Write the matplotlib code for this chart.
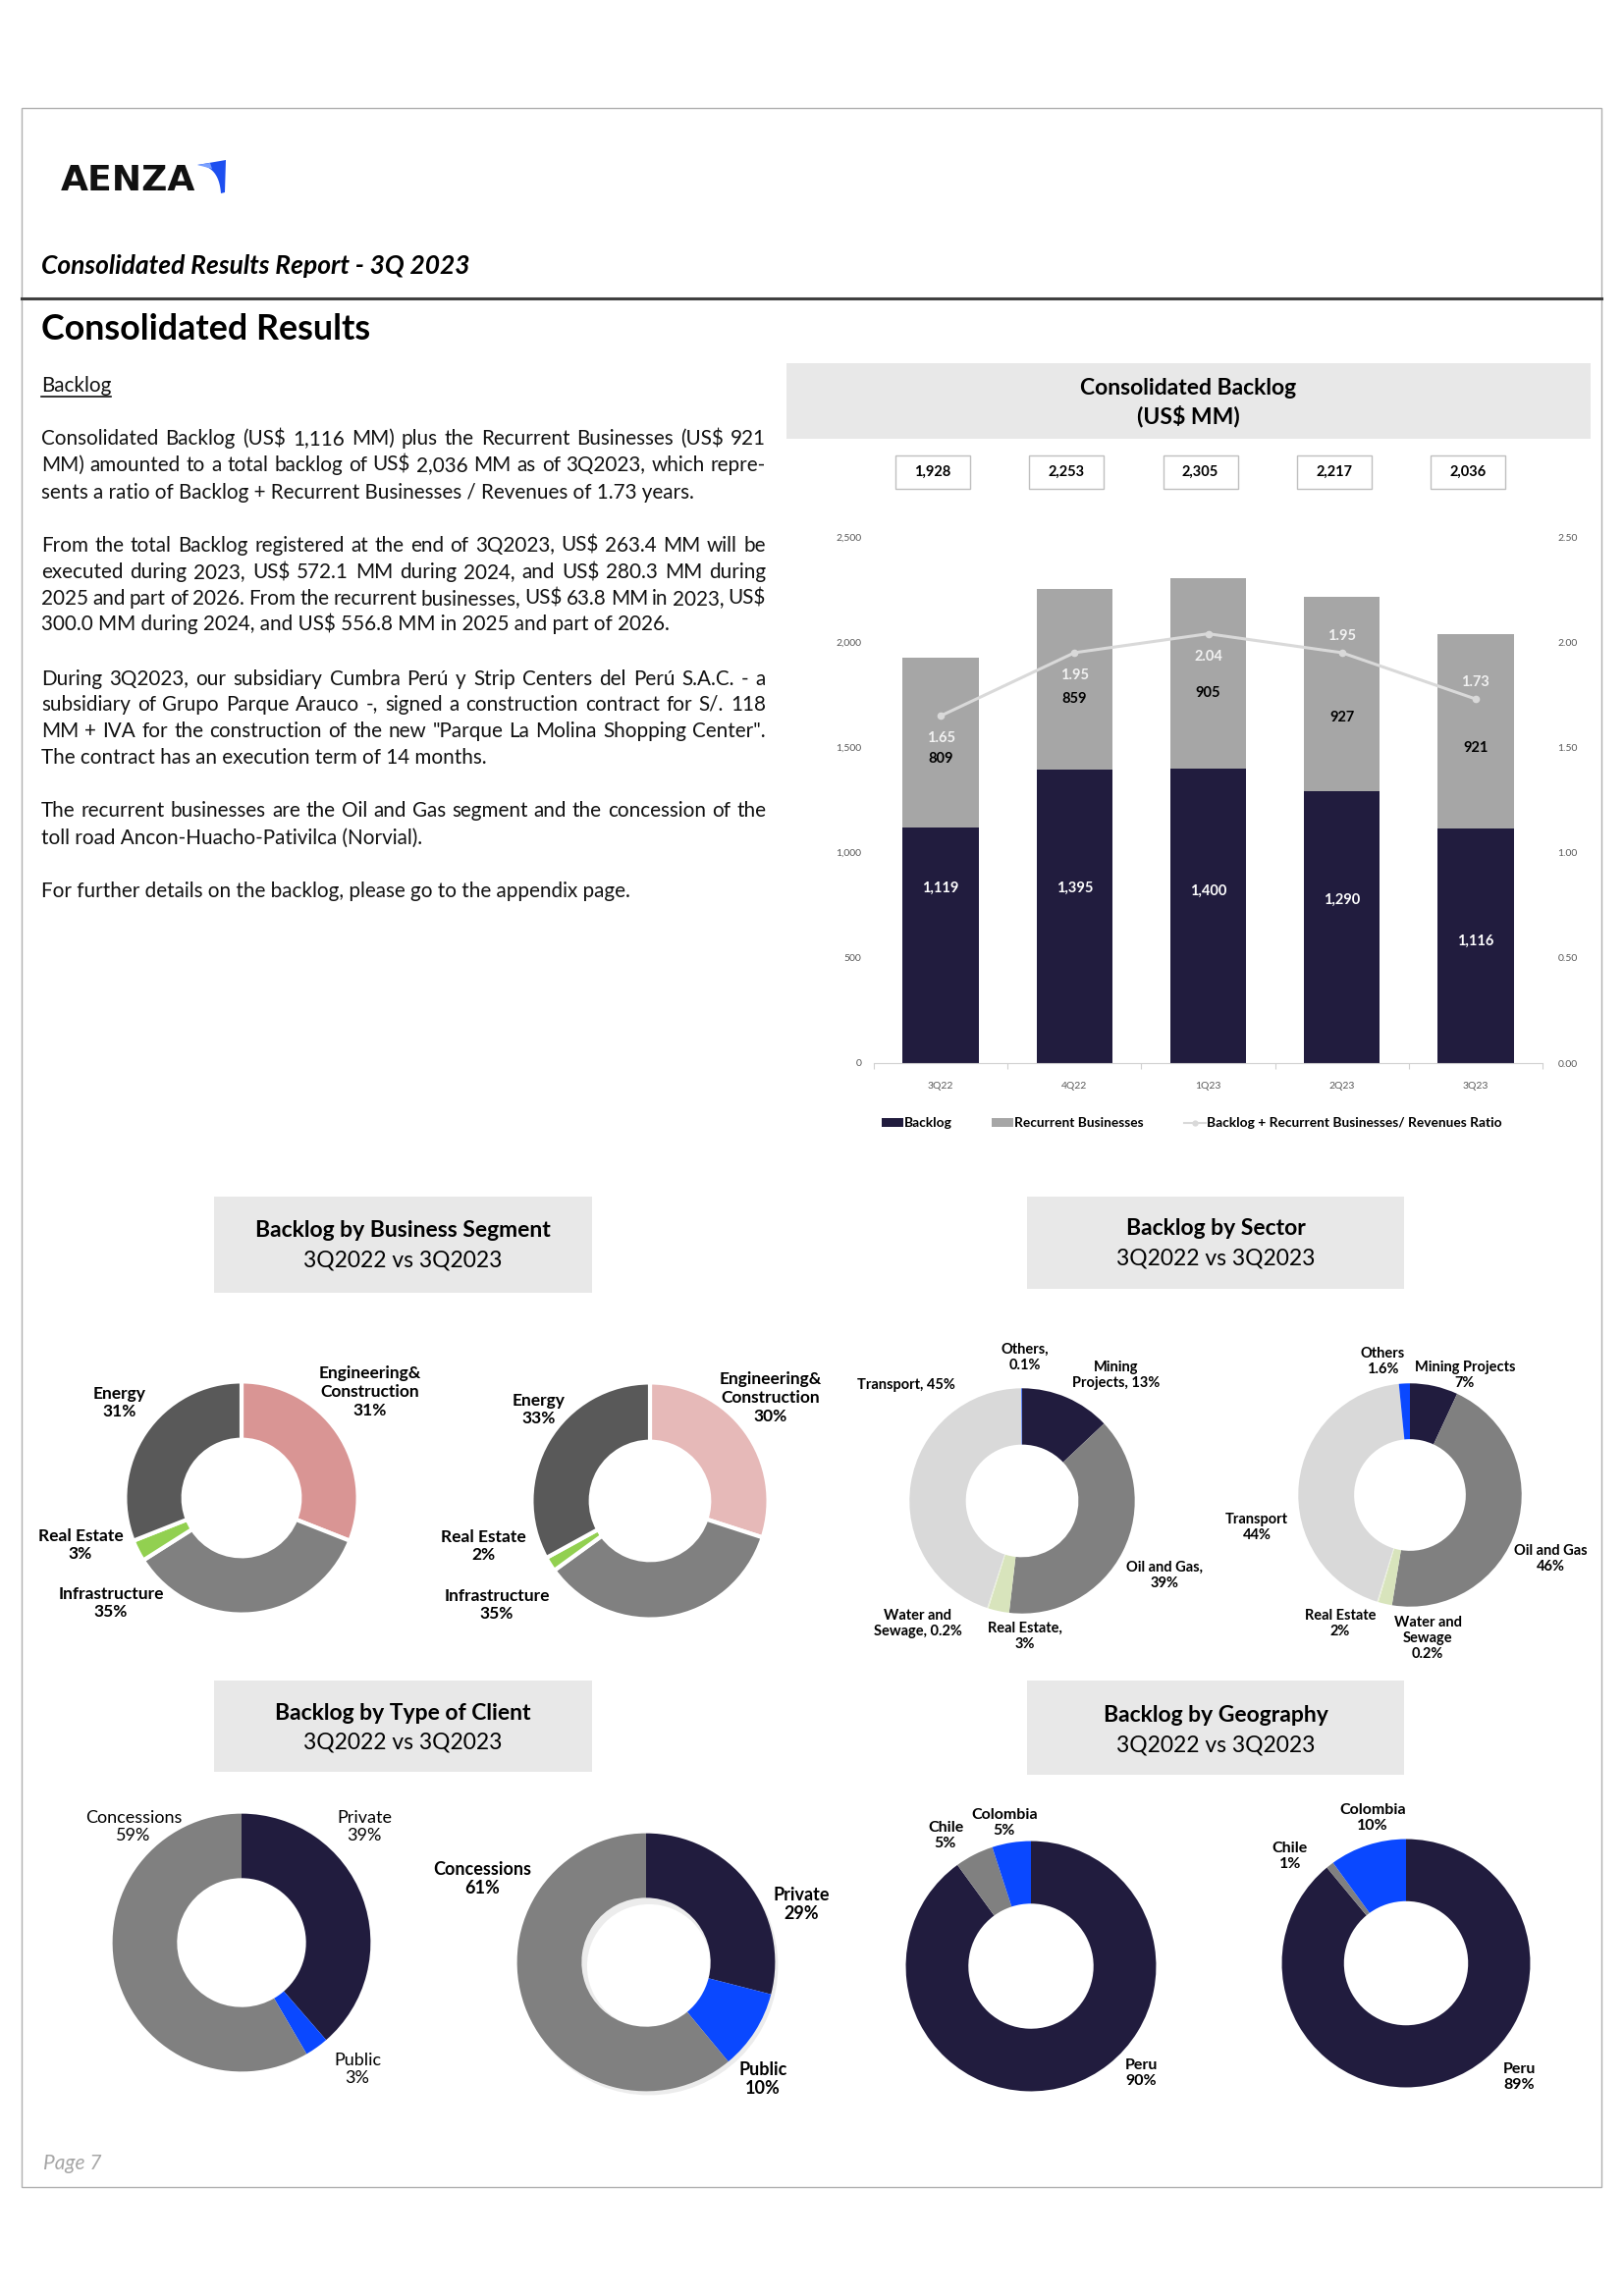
import matplotlib
matplotlib.use("Agg")
import matplotlib.pyplot as plt
import matplotlib.patches as mpatches
from matplotlib.lines import Line2D
import numpy as np

W, H = 1654, 2339
FONT = ["Lato", "DejaVu Sans"]
plt.rcParams["font.family"] = FONT

# ---- data ----
quarters = ["3Q22", "4Q22", "1Q23", "2Q23", "3Q23"]
backlog = [1119, 1395, 1400, 1290, 1116]
recurrent = [809, 859, 905, 927, 921]
totals = [1928, 2253, 2305, 2217, 2036]
ratio = [1.65, 1.95, 2.04, 1.95, 1.73]

seg_22 = [31, 35, 3, 31]
seg_23 = [30, 35, 2, 33]
sector_22 = [13, 39, 3, 0.2, 45, 0.1]
sector_23 = [7, 46, 2, 0.2, 44, 1.6]
client_22 = [39, 3, 59]
client_23 = [29, 10, 61]
geo_22 = [90, 5, 5]
geo_23 = [89, 1, 10]

NAVY = "#211c3e"
BLUE = "#0a48ff"
GRAY_REC = "#a6a6a6"

fig = plt.figure(figsize=(W / 100, H / 100), dpi=100)


def P(x, y):
    return x / W, 1 - y / H


def txt(x, y, s, **kw):
    kw.setdefault("va", "center")
    return fig.text(*P(x, y), s, **kw)


# page frame
fig.patches.append(mpatches.Rectangle(P(22, 2228), 1609 / W, 2118 / H, transform=fig.transFigure,
                                      fill=False, edgecolor="#b0b0b0", lw=1))
fig.add_artist(Line2D([22 / W, 1631 / W], [1 - 304 / H] * 2, color="#404040", lw=2.2))

# logo
txt(62, 184, "AENZA", fontsize=26, fontweight="bold", family="DejaVu Sans", color="#111111")
t = np.linspace(0, 1, 20)
p0, c, p1 = np.array([201, 168]), np.array([223, 169]), np.array([225, 197])
curve = [tuple((1 - s) ** 2 * p0 + 2 * (1 - s) * s * c + s ** 2 * p1) for s in t]
swoosh = curve + [(229, 196), (230, 163), (201, 168)]
fig.patches.append(mpatches.Polygon([P(*p) for p in swoosh], closed=True, transform=fig.transFigure,
                                    color="#1d4ff0", lw=0))
light = [(201, 168), (214, 166), (216, 172)]
fig.patches.append(mpatches.Polygon([P(*p) for p in light], closed=True, transform=fig.transFigure,
                                    color="#7aa0ff", lw=0))

txt(42, 271, "Consolidated Results Report - 3Q 2023", fontsize=19, fontweight="bold", style="italic")
txt(42, 336, "Consolidated Results", fontsize=25.8, fontweight="bold")
txt(44, 2204, "Page 7", fontsize=15, style="italic", color="#a6a6a6")

# ---- body text ----
renderer = fig.canvas.get_renderer()
BODY = 14.9


def put_line(s, y, justify, x0=42, width=738, size=BODY):
    yb = y + 7
    if not justify:
        return txt(x0, yb, s, fontsize=size, color="#111111", va="baseline")
    words = s.split(" ")
    objs = [txt(x0, yb, w_, fontsize=size, color="#111111", va="baseline") for w_ in words]
    ws = [o.get_window_extent(renderer).width for o in objs]
    gap = (width - sum(ws)) / (len(words) - 1)
    cur = x0
    for o, w_ in zip(objs, ws):
        o.set_x(cur / W)
        cur += w_ + gap


b = put_line("Backlog", 392, False)
bw = b.get_window_extent(renderer).width
fig.add_artist(Line2D([42 / W, (42 + bw) / W], [1 - 404 / H] * 2, color="#111111", lw=1.2))

body = [
    ("Consolidated Backlog (US$ 1,116 MM) plus the Recurrent Businesses (US$ 921", True, 446),
    ("MM) amounted to a total backlog of US$ 2,036 MM as of 3Q2023, which repre-", True, 473),
    ("sents a ratio of Backlog + Recurrent Businesses / Revenues of 1.73 years.", False, 501),
    ("From the total Backlog registered at the end of 3Q2023, US$ 263.4 MM will be", True, 555),
    ("executed during 2023, US$ 572.1 MM during 2024, and US$ 280.3 MM during", True, 582),
    ("2025 and part of 2026. From the recurrent businesses, US$ 63.8 MM in 2023, US$", True, 609),
    ("300.0 MM during 2024, and US$ 556.8 MM in 2025 and part of 2026.", False, 635),
    ("During 3Q2023, our subsidiary Cumbra Perú y Strip Centers del Perú S.A.C. - a", True, 691),
    ("subsidiary of Grupo Parque Arauco -, signed a construction contract for S/. 118", True, 717),
    ("MM + IVA for the construction of the new \"Parque La Molina Shopping Center\".", True, 744),
    ("The contract has an execution term of 14 months.", False, 771),
    ("The recurrent businesses are the Oil and Gas segment and the concession of the", True, 825),
    ("toll road Ancon-Huacho-Pativilca (Norvial).", False, 853),
    ("For further details on the backlog, please go to the appendix page.", False, 907),
]
for s, j, y in body:
    put_line(s, y, j)


# ---- gray title boxes ----
def title_box(x0, y0, x1, y1, line1, line2, y_1, y_2, bold1=True, bold2=False, size=16.5):
    fig.patches.append(mpatches.Rectangle(P(x0, y1), (x1 - x0) / W, (y1 - y0) / H,
                                          transform=fig.transFigure, color="#e8e8e8", lw=0))
    xc = (x0 + x1) / 2
    txt(xc, y_1, line1, ha="center", fontsize=size, fontweight="bold" if bold1 else "normal")
    txt(xc, y_2, line2, ha="center", fontsize=size, fontweight="bold" if bold2 else "normal")


title_box(801, 370, 1620, 447, "Consolidated Backlog", "(US$ MM)", 395, 424, True, True)
title_box(218, 1219, 603, 1317, "Backlog by Business Segment", "3Q2022 vs 3Q2023", 1254, 1284)
title_box(1046, 1219, 1430, 1313, "Backlog by Sector", "3Q2022 vs 3Q2023", 1251, 1282)
title_box(218, 1712, 603, 1805, "Backlog by Type of Client", "3Q2022 vs 3Q2023", 1745, 1775)
title_box(1046, 1712, 1430, 1808, "Backlog by Geography", "3Q2022 vs 3Q2023", 1747, 1778)

# ---- bar chart ----
AX_L, AX_R, AX_B, AX_T = 890, 1571, 1083, 547
ax = fig.add_axes([AX_L / W, 1 - AX_B / H, (AX_R - AX_L) / W, (AX_B - AX_T) / H])
x = np.arange(len(quarters))
bw_ = 0.567
ax.bar(x, backlog, bw_, color=NAVY, zorder=2)
ax.bar(x, recurrent, bw_, bottom=backlog, color=GRAY_REC, zorder=2)
ax.set_xlim(-0.5, 4.5)
ax.set_ylim(0, 2500)
ax.set_yticks(range(0, 2501, 500))
ax.set_yticklabels([f"{v:,}" for v in range(0, 2501, 500)])
ax.set_xticks(x)
ax.set_xticklabels(quarters)
ax.set_xticks(np.arange(-0.5, 5, 1), minor=True)
ax.tick_params(axis="x", which="major", length=0, pad=14, labelsize=7.5, labelcolor="#595959")
ax.tick_params(axis="x", which="minor", length=4, color="#d0d0d0", width=0.8)
ax.tick_params(axis="y", length=0, pad=9, labelsize=7.5, labelcolor="#595959")
for sp in ["top", "right", "left"]:
    ax.spines[sp].set_visible(False)
ax.spines["bottom"].set_color("#d0d0d0")

back_lab_y = [832, 832, 818, 776, 580]
rec_lab_y = [1444, 1729, 1757, 1640, 1495]
slot = (AX_R - AX_L) / len(quarters)
for i in range(len(x)):
    ax.text(i, back_lab_y[i], f"{backlog[i]:,}", ha="center", va="center", color="white",
            fontsize=10.5, fontweight="bold", zorder=4)
    ax.text(i, rec_lab_y[i], f"{recurrent[i]:,}", ha="center", va="center", color="black",
            fontsize=10.5, fontweight="bold", zorder=4)
    bx = AX_L + (i + 0.5) * slot - 8
    fig.patches.append(mpatches.Rectangle(P(bx - 38, 498), 76 / W, 34 / H, transform=fig.transFigure,
                                          fc="white", ec="#bfbfbf", lw=1))
    txt(bx, 481, f"{totals[i]:,}", ha="center", fontsize=10.5, fontweight="bold")

ax2 = ax.twinx()
ax2.plot(x, ratio, color="#d9d9d9", lw=2.2, marker="o", ms=4.5, zorder=3)
ax2.set_ylim(0, 2.5)
ax2.set_yticks(np.arange(0, 2.51, 0.5))
ax2.set_yticklabels([f"{v:.2f}" for v in np.arange(0, 2.51, 0.5)])
ax2.tick_params(axis="y", length=0, pad=11, labelsize=7.5, labelcolor="#595959")
for sp in ax2.spines.values():
    sp.set_visible(False)
ratio_off = [-23, -23, -23, 17, 17]
for i in range(len(x)):
    ax2.annotate(f"{ratio[i]:.2f}", (i, ratio[i]), xytext=(0, ratio_off[i]), textcoords="offset pixels",
                 ha="center", va="center", color="#f2f2f2", fontsize=10.5, fontweight="bold")

# legend
LEG = 9.9
fig.patches.append(mpatches.Rectangle(P(898, 1148), 22 / W, 9 / H, transform=fig.transFigure, color=NAVY, lw=0))
txt(921, 1144, "Backlog", fontsize=LEG, fontweight="bold")
fig.patches.append(mpatches.Rectangle(P(1010, 1148), 22 / W, 9 / H, transform=fig.transFigure, color=GRAY_REC, lw=0))
txt(1033, 1144, "Recurrent Businesses", fontsize=LEG, fontweight="bold")
fig.add_artist(Line2D([1206 / W, 1228 / W], [1 - 1144 / H] * 2, color="#d9d9d9", lw=1.5))
fig.add_artist(Line2D([1217 / W], [1 - 1144 / H], color="#d9d9d9", marker="o", ms=3.5, lw=0))
txt(1229, 1144, "Backlog + Recurrent Businesses/ Revenues Ratio", fontsize=LEG, fontweight="bold")


# ---- donuts ----
def pct(v):
    return f"{v:g}%"


def ring_axes(cx, cy, r):
    a = fig.add_axes([(cx - r) / W, 1 - (cy + r) / H, 2 * r / W, 2 * r / H])
    a.set_xlim(-1.02, 1.02)
    a.set_ylim(-1.02, 1.02)
    a.set_aspect("equal")
    a.axis("off")
    return a


def donut(cx, cy, r, values, colors, labels, label_pos, edge="white", lw=0, weight="bold", size=10.5):
    a = ring_axes(cx, cy, r)
    a.pie(values, colors=colors, startangle=90, counterclock=False, radius=1,
          wedgeprops=dict(width=0.5, edgecolor=edge, linewidth=lw))
    a.set_xlim(-1.02, 1.02)
    a.set_ylim(-1.02, 1.02)
    for lab, v, (lx, ly) in zip(labels, values, label_pos):
        txt(lx, ly, lab.format(pct(v)), ha="center", fontsize=size, fontweight=weight, linespacing=1.2)


seg_colors_22 = ["#d99594", "#808080", "#92d050", "#595959"]
seg_colors_23 = ["#e6b9b8", "#808080", "#92d050", "#595959"]
seg_lab = ["Engineering&\nConstruction\n{}", "Infrastructure\n{}", "Real Estate\n{}", "Energy\n{}"]
donut(246, 1526, 121, seg_22, seg_colors_22, seg_lab,
      [(377, 1418), (113, 1633), (82, 1574), (122, 1429)], lw=3, size=12.5)
donut(662, 1529, 123, seg_23, seg_colors_23, seg_lab,
      [(785, 1424), (506, 1635), (492, 1575), (549, 1436)], lw=3, size=12.5)

sec_colors = [NAVY, "#808080", "#d8e4bc", "#ebf1de", "#d9d9d9", BLUE]
donut(1041, 1529, 117, sector_22, sec_colors,
      ["Mining\nProjects, {}", "Oil and Gas,\n{}", "Real Estate,\n{}", "Water and\nSewage, {}",
       "Transport, {}", "Others,\n{}"],
      [(1137, 1401), (1186, 1605), (1044, 1667), (935, 1654), (923, 1411), (1044, 1383)])
donut(1436, 1523, 116, sector_23, sec_colors,
      ["Mining Projects\n{}", "Oil and Gas\n{}", "Real Estate\n{}", "Water and\nSewage\n{}",
       "Transport\n{}", "Others\n{}"],
      [(1492, 1401), (1579, 1588), (1365, 1654), (1454, 1669), (1280, 1556), (1408, 1387)])

cli_colors = [NAVY, BLUE, "#808080"]
cli_lab = ["Private\n{}", "Public\n{}", "Concessions\n{}"]
donut(246, 1979, 134, client_22, cli_colors, cli_lab,
      [(371, 1861), (364, 2108), (136, 1861)], weight="normal", size=13)
# soft shadow under the 3Q23 client donut
sh = ring_axes(661, 2003, 134)
sh.pie([1], colors=["#ececec"], radius=1, wedgeprops=dict(width=0.52))
sh.set_xlim(-1.02, 1.02)
sh.set_ylim(-1.02, 1.02)
donut(658, 1999, 134, client_23, cli_colors, cli_lab,
      [(816, 1940), (777, 2118), (491, 1914)], size=13)

geo_colors = [NAVY, "#808080", BLUE]
geo_lab = ["Peru\n{}", "Chile\n{}", "Colombia\n{}"]
donut(1050, 2003, 130, geo_22, geo_colors, geo_lab,
      [(1162, 2112), (963, 1870), (1023, 1857)], size=11.5)
donut(1432, 2000, 129, geo_23, geo_colors, geo_lab,
      [(1547, 2116), (1314, 1891), (1398, 1852)], size=11.5)

fig.savefig("out.png", dpi=100)
